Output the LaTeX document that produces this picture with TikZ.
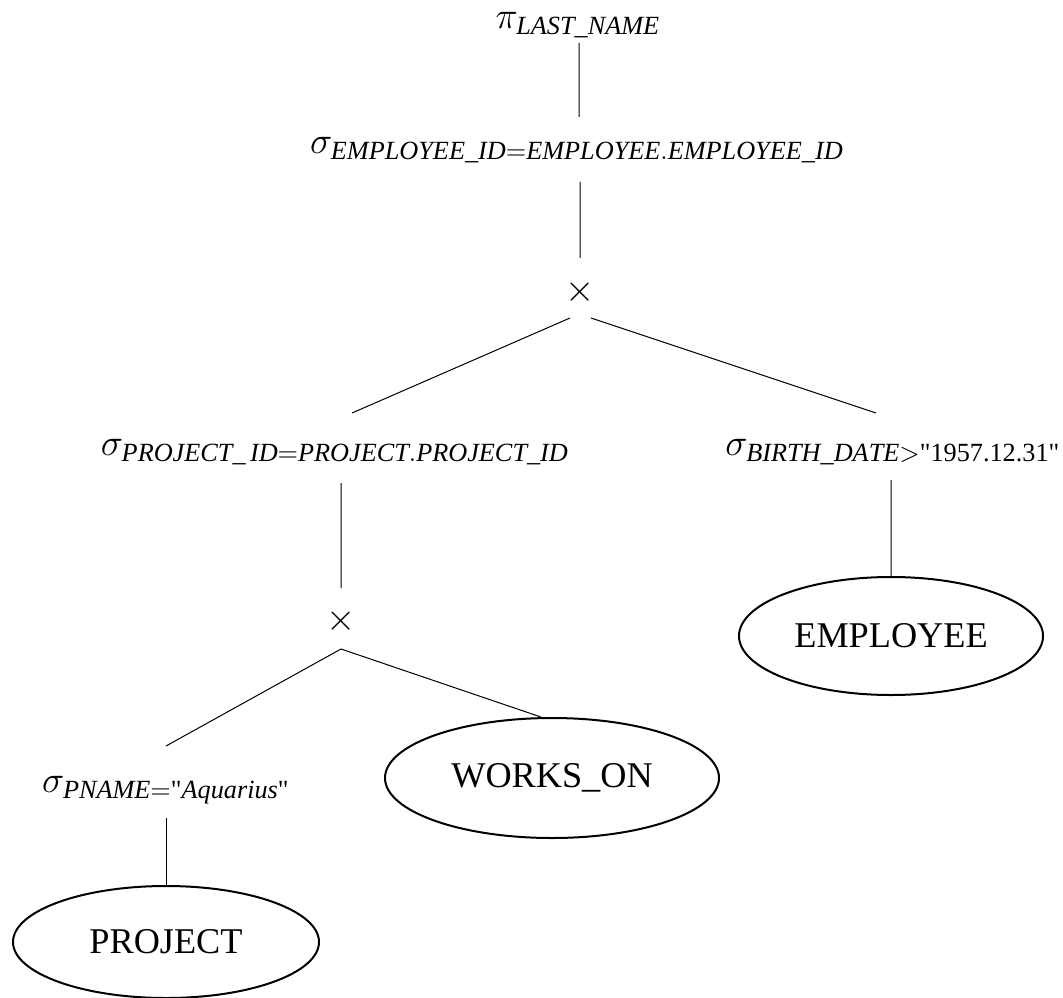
\RequirePackage{fix-cm}
\documentclass[tikz,border=0pt]{standalone}
\usepackage{amsmath}
\usepackage{fontspec}
\setmainfont{Liberation Serif}
\usetikzlibrary{shapes.geometric}

\newcommand{\attr}[1]{\mathit{#1}}
\newcommand{\qstr}[1]{\text{\textquotedbl#1\textquotedbl}}

\begin{document}
\begin{tikzpicture}[x=0.4pt, y=-0.4pt,
        op/.style={inner sep=0pt, font=\fontsize{15}{18}\selectfont},
        rel/.style={draw, ellipse, line width=0.8pt, inner sep=0pt,
                    font=\fontsize{14.5}{17}\selectfont},
        edge/.style={line width=0.4pt}]
        \useasboundingbox (0,0) rectangle (1063,997);

        % operators
        \node[op] (proj) at (578,25) {$\pi_{\attr{LAST\_NAME}}$};
        \node[op] (s1) at (577,150) {$\sigma_{\attr{EMPLOYEE\_ID}=\attr{EMPLOYEE.EMPLOYEE\_ID}}$};
        \node[op] (x1) at (580,292) {$\times$};
        \node[op] (sp) at (335,452) {$\sigma_{\attr{PROJECT\_\,ID}=\attr{PROJECT.PROJECT\_ID}}$};
        \node[op] (sb) at (893,452) {$\sigma_{\attr{BIRTH\_DATE}>\qstr{1957.12.31}}$};
        \node[op] (x2) at (341,621) {$\times$};
        \node[op] (spn) at (166,790) {$\sigma_{\attr{PNAME}=\text{\textquotedbl}\attr{Aquarius}\text{\textquotedbl}}$};

        % relations
        \node[rel, minimum width=133.6pt, minimum height=48pt] (works) at (552,778) {WORKS\_ON};
        \node[rel, minimum width=122.4pt, minimum height=44.8pt] (project) at (166,942) {PROJECT};
        \node[rel, minimum width=121.6pt, minimum height=47.2pt] (employee) at (891,636) {EMPLOYEE};

        % edges
        \draw[edge] ([xshift=0.4pt,yshift=-7.2pt]proj.center) -- ([xshift=0.8pt,yshift=13.2pt]s1.center);
        \draw[edge] ([xshift=1.2pt,yshift=-12.8pt]s1.center) -- ([yshift=13.6pt]x1.center);
        \draw[edge] ([xshift=-4pt,yshift=-10.4pt]x1.center) -- ([xshift=6.8pt,yshift=15.6pt]sp.center);
        \draw[edge] ([xshift=4.4pt,yshift=-10.4pt]x1.center) -- ([xshift=-6.8pt,yshift=15.6pt]sb.center);
        \draw[edge] ([xshift=2.4pt,yshift=-12.4pt]sp.center) -- ([yshift=13.2pt]x2.center);
        \draw[edge] ([xshift=-0.8pt,yshift=-11.2pt]sb.center) -- (employee.north);
        \draw[edge] ([yshift=-11.2pt]x2.center) -- ([yshift=17.6pt]spn.center);
        \draw[edge] ([yshift=-11.2pt]x2.center) -- (works.100);
        \draw[edge] ([yshift=-11.2pt]spn.center) -- (project.north);

    \end{tikzpicture}
\end{document}
